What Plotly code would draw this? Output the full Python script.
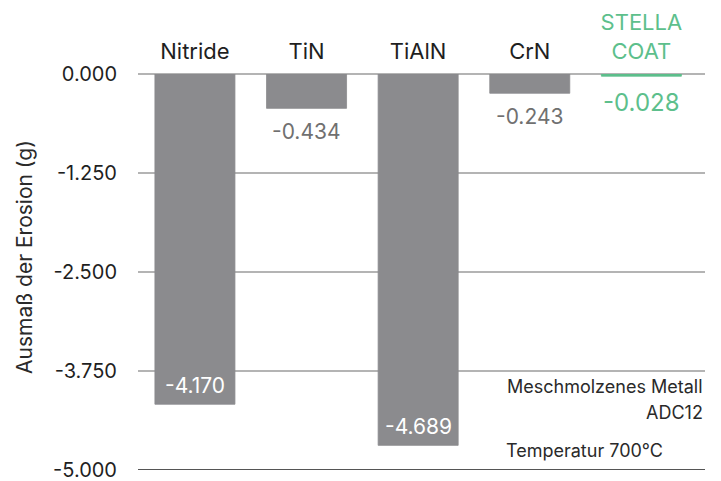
import plotly.graph_objects as go

categories = ["Nitride", "TiN", "TiAlN", "CrN", "STELLA COAT"]
tick_labels = ["Nitride", "TiN", "TiAlN", "CrN",
               "<span style='color:#5dbf8c'>STELLA<br>COAT</span>"]
values = [-4.170, -0.434, -4.689, -0.243, -0.028]
value_labels = ["-4.170", "-0.434", "-4.689", "-0.243", "-0.028"]
y_ticks = [0, -1.25, -2.5, -3.75, -5.0]
y_tick_labels = ["0.000", "-1.250", "-2.500", "-3.750", "-5.000"]
y_title = "Ausmaß der Erosion (g)"
notes = ["Meschmolzenes Metall", "ADC12", "Temperatur 700°C"]

GRAY = "#8b8b8e"
GREEN = "#5dbf8c"
FONT = "Inter"
TXT = "#2a2a2a"

colors = [GRAY, GRAY, GRAY, GRAY, GREEN]
# label style per bar: inside (white, near bar end) or outside (below bar)
label_inside = [True, False, True, False, False]
label_colors = ["white", "#707070", "white", "#707070", GREEN]
label_sizes = [21, 21, 21, 21, 24]

fig = go.Figure()
fig.add_trace(go.Bar(
    x=categories, y=values,
    marker=dict(color=colors, line=dict(width=0.8, color=colors)),
    width=0.717,
    hoverinfo="x+y",
))

for cat, val, lab, inside, col, sz in zip(categories, values, value_labels,
                                          label_inside, label_colors, label_sizes):
    fig.add_annotation(
        x=cat, y=val, text=lab, showarrow=False,
        xanchor="center", yanchor="middle",
        yshift=19 if inside else -(23 + (sz - 21)),
        font=dict(family=FONT, size=sz, color=col),
    )

fig.update_layout(
    width=721, height=481,
    margin=dict(l=138, r=16, t=74, b=11, autoexpand=False),
    plot_bgcolor="white", paper_bgcolor="white",
    showlegend=False,
    font=dict(family=FONT, color=TXT),
)
fig.update_xaxes(
    side="top", tickvals=categories, ticktext=tick_labels,
    range=[-0.51, 4.57],
    tickfont=dict(size=22, color="#1f1f1f"),
    showgrid=False, showline=False, zeroline=False,
    ticks="", ticklabelstandoff=10, automargin=False,
)
fig.update_yaxes(
    range=[-5, 0], tickvals=y_ticks, ticktext=y_tick_labels,
    tickfont=dict(size=20, color="#1f1f1f"),
    showgrid=True, gridcolor="#b4b4b4", gridwidth=2,
    zeroline=True, zerolinecolor="#b4b4b4", zerolinewidth=2,
    showline=False, ticks="", ticklabelstandoff=20, automargin=False,
    ticklabeloverflow="allow",
)
fig.add_shape(type="line", xref="paper", yref="y", x0=0, x1=1, y0=-5, y1=-5,
              line=dict(color="#555555", width=2))

fig.add_annotation(text=y_title, xref="paper", yref="paper", x=-0.2, y=0.537,
                   xanchor="center", yanchor="middle", textangle=-90, showarrow=False,
                   font=dict(size=21, color=TXT, family=FONT))
fig.add_annotation(text=notes[0], xref="paper", yref="y", x=1, y=-3.94,
                   xanchor="right", yanchor="middle", showarrow=False,
                   font=dict(size=18, color=TXT, family=FONT))
fig.add_annotation(text=notes[1], xref="paper", yref="y", x=1, y=-4.27,
                   xanchor="right", yanchor="middle", showarrow=False,
                   font=dict(size=18, color=TXT, family=FONT))
fig.add_annotation(text=notes[2], xref="paper", yref="y", x=0.645, y=-4.75,
                   xanchor="left", yanchor="middle", showarrow=False,
                   font=dict(size=18, color=TXT, family=FONT))

fig.write_html("out.html", post_script="document.body.style.margin='0';",
               config={"displayModeBar": False})
